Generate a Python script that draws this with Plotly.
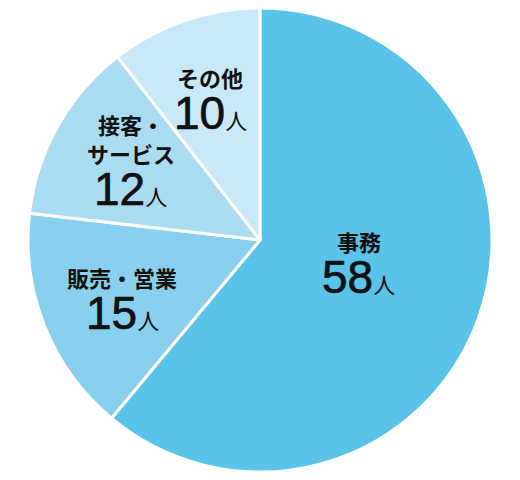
import math
import plotly.graph_objects as go

categories = ['事務', '販売・営業', '接客・<br>サービス', 'その他']
counts = [58, 15, 12, 10]
unit = '人'
colors = ['#59c3e9', '#88d0ee', '#aadcf1', '#c9e8f8']

# label placement: distance from centre (fraction of radius) and a small pixel nudge
label_r = [0.43, 0.64, 0.65, 0.66]
label_nudge = [(5, 15), (0, 0), (2, -5), (0, 0)]

W, H = 520, 480
# page body has an 8px margin, so the pie domain is pulled up/left by 8px
px0, px1, py0, py1 = 20, 484, 0, 464   # pie box in figure pixels (from top-left)
cx, cy = (px0 + px1) / 2, (py0 + py1) / 2
R = (px1 - px0) / 2

fig = go.Figure(go.Pie(
    labels=categories,
    values=counts,
    textinfo='none',
    sort=False,
    direction='clockwise',
    rotation=0,
    marker=dict(colors=colors, line=dict(color='white', width=3)),
    domain=dict(x=[px0 / W, px1 / W], y=[1 - py1 / H, 1 - py0 / H]),
    hoverinfo='skip',
))

total = sum(counts)
cum = 0
for i, (cat, n) in enumerate(zip(categories, counts)):
    mid = (cum + n / 2) / total * 2 * math.pi
    cum += n
    x = cx + label_r[i] * R * math.sin(mid) + label_nudge[i][0]
    y = cy - label_r[i] * R * math.cos(mid) - label_nudge[i][1]
    xp, yp = x / W, 1 - y / H
    fig.add_annotation(
        x=xp, y=yp, xref='paper', yref='paper', showarrow=False,
        text=f'<b>{cat}</b>', xanchor='center', yanchor='bottom',
        font=dict(family='Noto Sans CJK JP', size=22, color='#111111'),
    )
    fig.add_annotation(
        x=xp, y=yp, xref='paper', yref='paper', showarrow=False,
        text=(f"<span style='stroke:#111111;stroke-width:0.7px'>{n}</span>"
              f"<span style='font-family:Noto Sans CJK JP;font-size:22px'>{unit}</span>"),
        xanchor='center', yanchor='top', yshift=10,
        font=dict(family='Liberation Sans', size=46, color='#111111'),
    )

fig.update_layout(
    width=W,
    height=H,
    margin=dict(l=0, r=0, t=0, b=0),
    showlegend=False,
    paper_bgcolor='white',
)

fig.write_html("out.html")
